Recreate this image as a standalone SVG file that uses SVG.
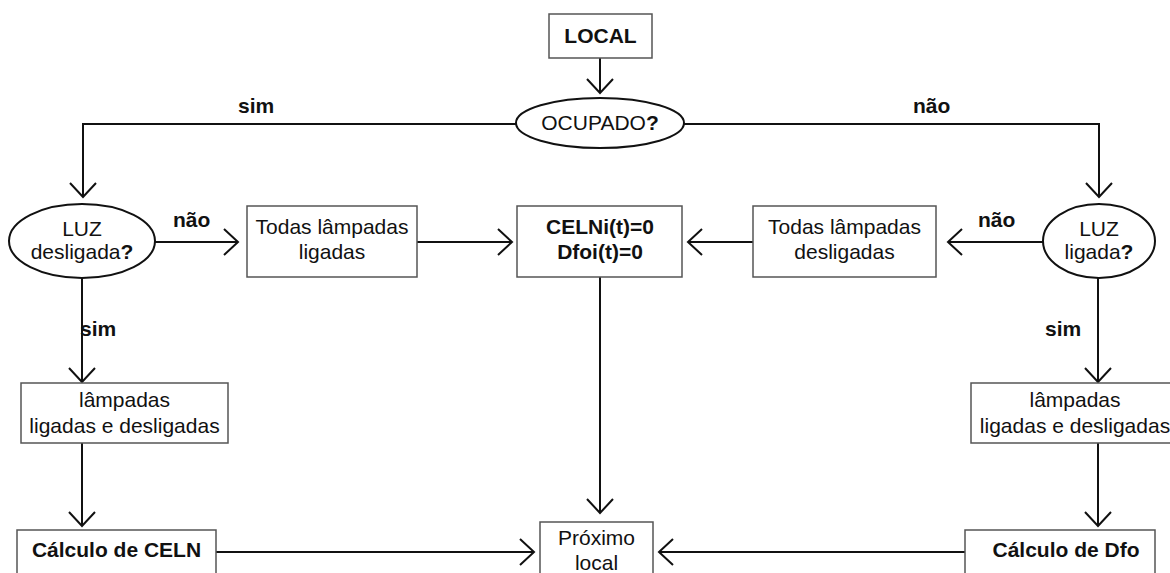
<svg xmlns="http://www.w3.org/2000/svg" width="1170" height="573" viewBox="0 0 1170 573">
<style>
.box{fill:#fff;stroke:#555;stroke-width:1.5}
.ell{fill:#fff;stroke:#111;stroke-width:2}
.ln{fill:none;stroke:#111;stroke-width:2}
text{font-family:"Liberation Sans",Arial,sans-serif;font-size:21px;fill:#111;text-anchor:middle}
.b{font-weight:bold}
.lbl{font-weight:bold;text-anchor:start}
</style>
<defs>
<marker id="ah" markerUnits="userSpaceOnUse" markerWidth="30" markerHeight="30" refX="0" refY="0" viewBox="-16 -15 18 30" orient="auto" overflow="visible">
<path d="M-14,-13 L0,0 L-14,13" fill="none" stroke="#111" stroke-width="2"/>
</marker>
</defs>
<rect width="1170" height="573" fill="#fff"/>
<g id="connectors">
<path class="ln" d="M600,58 V93" marker-end="url(#ah)"/>
<path class="ln" d="M516,124 H83 V197" marker-end="url(#ah)"/>
<path class="ln" d="M684,124 H1099 V197" marker-end="url(#ah)"/>
<path class="ln" d="M155,242 H238" marker-end="url(#ah)"/>
<path class="ln" d="M417,242 H512" marker-end="url(#ah)"/>
<path class="ln" d="M753,242 H688" marker-end="url(#ah)"/>
<path class="ln" d="M1043,242 H948" marker-end="url(#ah)"/>
<path class="ln" d="M82,278 V382" marker-end="url(#ah)"/>
<path class="ln" d="M1098,278 V382" marker-end="url(#ah)"/>
<path class="ln" d="M82,443 V526" marker-end="url(#ah)"/>
<path class="ln" d="M1098,443 V526" marker-end="url(#ah)"/>
<path class="ln" d="M600,277 V513" marker-end="url(#ah)"/>
<path class="ln" d="M216,552 H534" marker-end="url(#ah)"/>
<path class="ln" d="M965,552 H659" marker-end="url(#ah)"/>
<text class="lbl" x="238" y="113">sim</text>
<text class="lbl" x="913" y="113">não</text>
<text class="lbl" x="173" y="227">não</text>
<text class="lbl" x="978" y="227">não</text>
<text class="lbl" x="80" y="336">sim</text>
<text class="lbl" x="1045" y="336">sim</text>
</g>
<g id="local">
<rect class="box" x="549" y="14" width="103" height="44"/>
<text class="b" x="600.5" y="43">LOCAL</text>
</g>
<g id="ocupado">
<ellipse class="ell" cx="600" cy="123" rx="84" ry="25"/>
<text x="600" y="130">OCUPADO<tspan class="b">?</tspan></text>
</g>
<g id="luz-desligada">
<ellipse class="ell" cx="82" cy="241" rx="73" ry="37"/>
<text x="82" y="236">LUZ</text>
<text x="82" y="259">desligada<tspan class="b">?</tspan></text>
</g>
<g id="todas-ligadas">
<rect class="box" x="247" y="206" width="170" height="71"/>
<text x="332" y="234">Todas lâmpadas</text>
<text x="332" y="259">ligadas</text>
</g>
<g id="celni">
<rect class="box" x="517" y="206" width="165" height="71"/>
<text class="b" x="600" y="234">CELNi(t)=0</text>
<text class="b" x="600" y="259">Dfoi(t)=0</text>
</g>
<g id="todas-desligadas">
<rect class="box" x="753" y="206" width="183" height="71"/>
<text x="844.5" y="234">Todas lâmpadas</text>
<text x="844.5" y="259">desligadas</text>
</g>
<g id="luz-ligada">
<ellipse class="ell" cx="1099" cy="241" rx="56" ry="37"/>
<text x="1099" y="236">LUZ</text>
<text x="1099" y="259">ligada<tspan class="b">?</tspan></text>
</g>
<g id="lampadas-esq">
<rect class="box" x="21" y="383" width="207" height="60"/>
<text x="124.5" y="407">lâmpadas</text>
<text x="124.5" y="433">ligadas e desligadas</text>
</g>
<g id="lampadas-dir">
<rect class="box" x="971" y="383" width="208" height="60"/>
<text x="1075" y="407">lâmpadas</text>
<text x="1075" y="433">ligadas e desligadas</text>
</g>
<g id="calculo-celn">
<rect class="box" x="17" y="530" width="199" height="60"/>
<text class="b" x="116.5" y="557">Cálculo de CELN</text>
</g>
<g id="proximo">
<rect class="box" x="540" y="522" width="113" height="70"/>
<text x="596.5" y="545">Próximo</text>
<text x="596.5" y="570">local</text>
</g>
<g id="calculo-dfo">
<rect class="box" x="965" y="530" width="190" height="60"/>
<text class="b" x="1066" y="557">Cálculo de Dfo</text>
</g>
</svg>
